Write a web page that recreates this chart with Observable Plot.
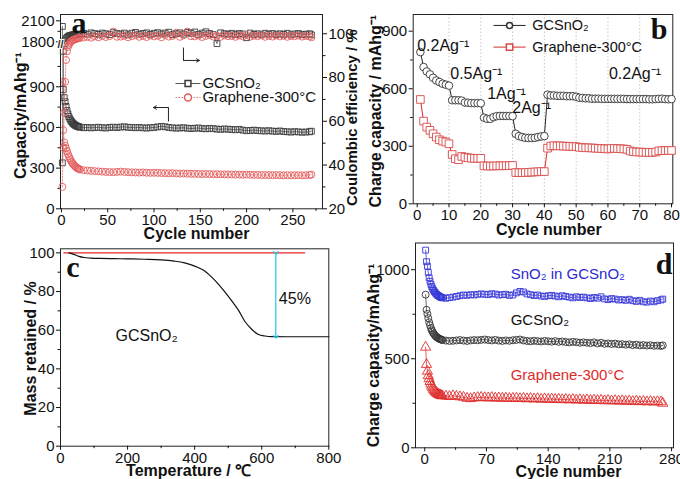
<!DOCTYPE html>
<html><head><meta charset="utf-8">
<script src="https://cdn.jsdelivr.net/npm/d3@7"></script>
<script src="https://cdn.jsdelivr.net/npm/@observablehq/plot@0.6"></script>
<style>
html,body{margin:0;padding:0;background:#fff;}
#fig{position:relative;width:680px;height:479px;overflow:hidden;background:#fff;}
</style></head><body><div id="fig"></div>
<script>
// ---------------- DATA ----------------
// Panel a: cycling (capacity, left axis; coulombic efficiency, right axis)
const cyclesA = [...d3.range(1, 21), ...d3.range(24, 269, 4), 270];
const gcCapA = [2020,880,820,790,755,725,700,680,665,652,642,634,627,621,616,612,609,606,604,602,
 598,600,597,599,601,598,596,600,602,599,
 603,605,601,600,598,600,597,596,598,600,
 604,608,605,600,597,595,596,598,594,592,
 594,596,592,590,593,591,588,586,589,587,
 585,583,586,580,576,578,580,577,575,574,
 576,573,571,574,570,568,566,569,567,565,
 566,568,572];
const grCapA = [935,580,490,465,445,425,405,388,372,358,346,336,327,319,312,306,301,297,293,290,
 285,282,280,278,276,274,272,271,270,272,
 274,272,270,269,268,267,268,266,265,266,
 265,264,263,262,263,261,260,260,259,258,
 258,257,256,257,256,255,255,254,254,253,
 253,252,252,251,252,251,250,250,249,249,
 249,248,249,248,247,248,247,248,248,247,
 248,249,252];
const gcCEA = [41,92,95.5,97,97.8,98.2,98.6,99,99,99.2,99.3,99.5,99.4,99.6,99.5,99.7,99.6,99.8,99.7,99.8,
 100.2,99.8,100.4,100.1,99.7,100.3,100.0,99.6,100.5,100.1,
 99.9,100.3,99.5,100.2,100.6,99.8,100.1,100.4,99.7,100.2,
 100.5,99.9,100.3,100.7,99.6,100.0,100.4,99.8,100.6,100.2,
 100.8,99.7,100.3,100.9,100.1,99.6,95.5,100.4,100.0,99.8,
 100.2,99.6,100.1,99.9,98.2,100.3,99.7,100.0,99.5,100.2,
 99.8,100.1,99.6,100.0,99.7,100.2,99.5,99.9,100.1,99.6,
 99.8,100.0,99.5];
const grCEA = [30,48,64,78,88,92,94,95,95.8,96.3,96.7,97,97.2,97.4,97.6,97.7,97.8,97.9,98,98.1,
 98.3,98.6,98.2,98.8,98.4,99.0,98.5,98.9,101.0,98.6,
 98.7,99.1,98.4,98.9,99.3,98.6,99.0,98.5,99.2,98.8,
 99.1,98.4,99.4,98.7,99.0,100.5,98.6,99.3,101.0,98.9,
 98.8,99.2,98.5,99.0,99.4,98.7,99.1,98.6,99.3,98.9,
 99.0,98.6,99.2,98.8,99.5,98.7,99.1,98.9,99.3,98.6,
 99.0,98.7,99.2,98.8,99.1,98.6,99.0,98.9,99.2,98.7,
 99.0,98.8,98.4];
const capTicksLowA = [0, 300, 600, 900];
const capTicksHighA = [1800, 2100];
const ceTicksA = [20, 40, 60, 80, 100];

// Panel b: rate capability
const cyclesB = d3.range(1, 81);
const gcRateB = [791,713,690,675,657,643,635,626,621,616,
 540,540,540,538,528,527,525,525,525,524,
 449,443,443,452,457,458,458,458,458,457,
 365,353,348,344,343,343,344,348,351,353,
 569,565,565,563,563,563,561,561,561,558,
 553,552,550,550,548,548,548,547,547,547,
 547,547,547,547,547,546,546,546,546,546,
 546,546,545,545,546,547,548,546,545,546];
const grRateB = [544,431,400,383,365,348,334,327,322,313,
 257,235,230,247,243,240,238,237,237,237,
 198,197,197,197,198,198,198,199,199,200,
 163,162,162,163,164,165,166,167,168,168,
 290,301,303,302,302,301,300,300,299,298,
 295,293,292,292,291,290,289,288,287,286,
 288,289,288,287,286,284,275,272,270,270,
 269,268,268,268,270,276,277,277,278,278];
const rateLabels = ["0.2Ag⁻¹", "0.5Ag⁻¹", "1Ag⁻¹", "2Ag⁻¹", "0.2Ag⁻¹"];
const rateLabelCycle = [0, 10.4, 22, 29.9, 60.3];
const rateLabelCap = [826, 679, 575, 502, 679];

// Panel c: TGA
const tempC = [25,40,55,70,90,120,160,200,250,300,340,370,390,410,430,450,470,490,510,530,550,570,590,610,630,700,800];
const massC = [100,99.2,98.2,97.6,97.3,97.1,97.0,96.9,96.7,96.4,95.7,94.8,93.8,92.4,90.6,87.6,84.0,79.8,75.3,70.5,64.5,60.5,57.8,57.0,56.7,56.6,56.6];
const refLineC = [{t: 10, m: 100}, {t: 728, m: 100}];
const lossC = [{t: 642, top: 100, bottom: 56.6}];

// Panel d: cycling of three materials
const cyclesD = [...d3.range(1, 21), ...d3.range(24, 269, 4), 270];
const sno2D = [1110,1045,1020,985,955,935,918,905,893,884,876,870,864,859,855,852,849,846,844,842,
 840,843,846,850,854,858,856,860,858,862,
 864,862,860,865,863,858,860,862,856,858,
 870,878,875,864,860,855,858,852,850,854,
 856,852,848,854,850,846,842,848,844,846,
 842,838,844,840,848,836,832,838,835,830,
 832,828,834,826,822,828,820,818,824,820,
 826,830,835];
const gcD = [860,775,752,728,705,688,672,660,650,642,635,629,624,620,617,614,611,609,607,605,
 602,600,601,603,605,602,600,603,605,604,
 606,608,605,603,606,602,600,603,601,604,
 606,608,603,600,598,601,599,597,600,598,
 596,599,595,597,594,592,595,593,590,592,
 590,588,592,586,590,584,586,583,585,581,
 582,579,581,577,579,575,577,574,576,573,
 574,572,575];
const grD = [565,468,430,405,388,372,358,346,336,328,321,315,310,306,302,299,297,295,293,292,
 290,288,292,289,286,284,278,276,280,282,
 283,281,280,282,279,280,278,279,277,278,
 279,276,278,275,277,274,276,273,275,272,
 274,271,273,270,272,269,271,268,270,267,
 269,266,268,265,267,264,266,263,265,262,
 264,261,263,260,262,259,261,258,260,257,
 259,258,250];

// ---------------- DRAWING ----------------
const FONT = "'Liberation Sans', Arial, sans-serif";
const SERIF = "'Liberation Serif', 'Times New Roman', serif";
const baseStyle = {background: "transparent", fontFamily: FONT, fontSize: "15px", color: "#111", overflow: "visible"};
const fig = document.getElementById("fig");
function put(svg, left, top) {
  svg.style.position = "absolute";
  svg.style.left = left + "px";
  svg.style.top = top + "px";
  svg.style.maxWidth = "none";
  fig.appendChild(svg);
}
const T = (t, o) => Plot.text([t], {text: d => d, fontFamily: FONT, fill: "#111", textAnchor: "middle", lineAnchor: "middle", ...o});
const title = (t, o) => T(t, {fontWeight: "bold", fontSize: 16, ...o});
const letter = (t, o) => Plot.text([t], {text: d => d, fontFamily: SERIF, fontWeight: "bold", fontSize: 30, fill: "#111", textAnchor: "middle", lineAnchor: "middle", ...o});
const ax = (f, o) => f({tickSize: 4, tickPadding: 2, label: null, tickFormat: "d", ...o});
const minor = (f, ticks, o) => f({ticks, tickSize: 2.5, tickFormat: () => "", label: null, ...o});

// ---- panel a : capacity, lower segment of the broken axis ----
const rowsA = cyclesA.map((c, i) => ({c, gcCap: gcCapA[i], grCap: grCapA[i], gcCE: gcCEA[i], grCE: grCEA[i]}));
const legendA = [
  {name: "GCSnO₂", y: 924, x1: 123.2, x2: 150.2, xm: 136.7, xt: 152.3},
  {name: "Graphene-300°C", y: 821, x1: 123.2, x2: 150.2, xm: 136.7, xt: 152.3}
];
const capArrowA = [{x: 115.6, y1: 644, y2: 747, xEnd: 99.4}];
const capMarks = [
  Plot.line(rowsA, {x: "c", y: "grCap", stroke: "#e87070", strokeWidth: 0.8, strokeDasharray: "1.5,1.5", clip: true}),
  Plot.dot(rowsA, {x: "c", y: "grCap", r: 3.5, stroke: "#e45c5c", fill: "none", strokeWidth: 0.9, clip: true}),
  Plot.line(rowsA, {x: "c", y: "gcCap", stroke: "#555", strokeWidth: 0.8, clip: true}),
  Plot.dot(rowsA, {x: "c", y: "gcCap", symbol: "square", r: 3.3, stroke: "#3a3a3a", fill: "none", strokeWidth: 0.9, clip: true})
];
const plotA = Plot.plot({
  width: 340, height: 240, marginLeft: 60, marginRight: 18, marginTop: 45.6, marginBottom: 31.7,
  style: baseStyle,
  x: {domain: [-1, 282]},
  y: {domain: [0, 1200]},
  marks: [
    ...capMarks,
    ax(Plot.axisX, {ticks: [0, 50, 100, 150, 200, 250]}),
    minor(Plot.axisX, [25, 75, 125, 175, 225, 275]),
    ax(Plot.axisY, {ticks: capTicksLowA}),
    minor(Plot.axisY, [150, 450, 750, 1050]),
    // legend
    Plot.link(legendA.slice(0, 1), {x1: "x1", x2: "x2", y1: "y", y2: "y", stroke: "#555", strokeWidth: 1}),
    Plot.link(legendA.slice(1), {x1: "x1", x2: "x2", y1: "y", y2: "y", stroke: "#e87070", strokeWidth: 1, strokeDasharray: "1.5,1.5"}),
    Plot.dot(legendA.slice(0, 1), {x: "xm", y: "y", symbol: "square", r: 3.3, stroke: "#3a3a3a", fill: "white"}),
    Plot.dot(legendA.slice(1), {x: "xm", y: "y", r: 3.5, stroke: "#e45c5c", fill: "white"}),
    Plot.text(legendA, {x: "xt", y: "y", text: "name", textAnchor: "start", fontFamily: FONT, fontSize: 15, fill: "#111"}),
    // arrow pointing to the capacity axis
    Plot.link(capArrowA, {x1: "x", x2: "x", y1: "y1", y2: "y2", stroke: "#222", strokeWidth: 1}),
    Plot.arrow(capArrowA, {x1: "x", y1: "y2", x2: "xEnd", y2: "y2", stroke: "#222", strokeWidth: 1, headLength: 5}),
    title("Cycle number", {frameAnchor: "bottom", dx: 5, dy: 25})
  ]
});
put(plotA, 0, 0);

// ---- panel a : capacity, upper segment of the broken axis ----
const plotAhi = Plot.plot({
  width: 340, height: 240, marginLeft: 60, marginRight: 18, marginTop: 14, marginBottom: 198,
  style: baseStyle,
  x: {domain: [-1, 282], axis: null},
  y: {domain: [1790, 2190]},
  marks: [
    ...capMarks,
    ax(Plot.axisY, {ticks: capTicksHighA}),
    minor(Plot.axisY, [1950])
  ]
});
put(plotAhi, 0, 0);

// ---- panel a : coulombic efficiency (right axis) + frame ----
const ceArrowA = [{x: 131.8, y1: 93.7, y2: 87.8, xEnd: 149.1}];
const plotA2 = Plot.plot({
  width: 370, height: 240, marginLeft: 60, marginRight: 48, marginTop: 14, marginBottom: 31.7,
  style: baseStyle,
  x: {domain: [-1, 282], axis: null},
  y: {domain: [20, 108.8]},
  marks: [
    Plot.frame({stroke: "#222"}),
    Plot.line(rowsA, {x: "c", y: "gcCE", stroke: "#555", strokeWidth: 0.8}),
    Plot.dot(rowsA, {x: "c", y: "gcCE", symbol: "square", r: 3.3, stroke: "#3a3a3a", fill: "none", strokeWidth: 0.9}),
    Plot.line(rowsA, {x: "c", y: "grCE", stroke: "#e87070", strokeWidth: 0.8, strokeDasharray: "1.5,1.5"}),
    Plot.dot(rowsA, {x: "c", y: "grCE", r: 3.5, stroke: "#e45c5c", fill: "none", strokeWidth: 0.9}),
    ax(Plot.axisY, {anchor: "right", ticks: ceTicksA}),
    minor(Plot.axisY, [30, 50, 70, 90], {anchor: "right"}),
    Plot.link(ceArrowA, {x1: "x", x2: "x", y1: "y1", y2: "y2", stroke: "#222", strokeWidth: 1}),
    Plot.arrow(ceArrowA, {x1: "x", y1: "y2", x2: "xEnd", y2: "y2", stroke: "#222", strokeWidth: 1, headLength: 5}),
    // axis-break mark on the left axis (between 1200 and 1790)
    Plot.text(["//"], {frameAnchor: "top-left", dy: 30, text: d => d, fontSize: 11, fontWeight: "bold", fill: "#222", stroke: "white", strokeWidth: 2, paintOrder: "stroke", textAnchor: "middle", lineAnchor: "middle"}),
    title("Capacity/mAhg⁻¹", {frameAnchor: "left", rotate: -90, dx: -40, dy: 4}),
    title("Coulombic efficiency / %", {frameAnchor: "right", rotate: -90, dx: 30, dy: 6, fontSize: 15}),
    letter("a", {frameAnchor: "top-left", dx: 18.5, dy: 9})
  ]
});
put(plotA2, 0, 0);

// ---- panel b ----
const rowsB = cyclesB.map((c, i) => ({c, gc: gcRateB[i], gr: grRateB[i]}));
const rateRowsB = rateLabels.map((t, i) => ({t, x: rateLabelCycle[i], y: rateLabelCap[i]}));
const legendB = [
  {name: "GCSnO₂", y: 930, x1: 24, x2: 34.1, xm: 29.05, xt: 36.2},
  {name: "Graphene-300°C", y: 817, x1: 24, x2: 34.1, xm: 29.05, xt: 36.2}
];
const plotB = Plot.plot({
  width: 340, height: 240, marginLeft: 72.7, marginRight: 7.7, marginTop: 14, marginBottom: 36.7,
  style: baseStyle,
  x: {domain: [-1.26, 80.4]},
  y: {domain: [0, 987]},
  marks: [
    Plot.ruleX([10, 20, 30, 40, 50, 60, 70], {stroke: "#bbb", strokeWidth: 0.8, strokeDasharray: "1.5,2"}),
    Plot.frame({stroke: "#222"}),
    Plot.line(rowsB, {x: "c", y: "gr", stroke: "#d42a2a", strokeWidth: 1}),
    Plot.dot(rowsB, {x: "c", y: "gr", symbol: "square", r: 4.3, stroke: "#d94a4a", fill: "white", strokeWidth: 0.9}),
    Plot.line(rowsB, {x: "c", y: "gc", stroke: "#222", strokeWidth: 1}),
    Plot.dot(rowsB, {x: "c", y: "gc", r: 3.8, stroke: "#333", fill: "white", strokeWidth: 0.9}),
    ax(Plot.axisX, {ticks: d3.range(0, 81, 10)}),
    minor(Plot.axisX, d3.range(5, 80, 10)),
    ax(Plot.axisY, {ticks: [0, 300, 600, 900]}),
    minor(Plot.axisY, [150, 450, 750]),
    Plot.text(rateRowsB, {x: "x", y: "y", text: "t", textAnchor: "start", fontFamily: FONT, fontSize: 16, fill: "#111"}),
    Plot.link(legendB.slice(0, 1), {x1: "x1", x2: "x2", y1: "y", y2: "y", stroke: "#222", strokeWidth: 1}),
    Plot.link(legendB.slice(1), {x1: "x1", x2: "x2", y1: "y", y2: "y", stroke: "#d42a2a", strokeWidth: 1}),
    Plot.dot(legendB.slice(0, 1), {x: "xm", y: "y", r: 3, stroke: "#333", fill: "white"}),
    Plot.dot(legendB.slice(1), {x: "xm", y: "y", symbol: "square", r: 3.6, stroke: "#d94a4a", fill: "white"}),
    Plot.text(legendB, {x: "xt", y: "y", text: "name", textAnchor: "start", fontFamily: FONT, fontSize: 14.5, fill: "#111"}),
    title("Cycle number", {frameAnchor: "bottom", dx: 5.8, dy: 25.7}),
    title("Charge capacity / mAhg⁻¹", {frameAnchor: "left", rotate: -90, dx: -37.7, dy: 2}),
    letter("b", {frameAnchor: "top-right", dx: -13.8, dy: 15})
  ]
});
put(plotB, 340, 0);

// ---- panel c ----
const rowsC = tempC.map((t, i) => ({t, m: massC[i]}));
const plotC = Plot.plot({
  width: 340, height: 239, marginLeft: 60, marginRight: 11.7, marginTop: 8.3, marginBottom: 33.3,
  style: baseStyle,
  x: {domain: [0, 800]},
  y: {domain: [0, 102.1]},
  marks: [
    Plot.frame({stroke: "#222"}),
    Plot.line(refLineC, {x: "t", y: "m", stroke: "#ec2424", strokeWidth: 1.4}),
    Plot.line(rowsC, {x: "t", y: "m", stroke: "#111", strokeWidth: 1.2, curve: "monotone-x"}),
    Plot.link(lossC, {x1: "t", x2: "t", y1: "top", y2: "bottom", stroke: "#1ec8e6", strokeWidth: 1.2, markerStart: "arrow", markerEnd: "arrow"}),
    ax(Plot.axisX, {ticks: [0, 200, 400, 600, 800]}),
    minor(Plot.axisX, [100, 300, 500, 700]),
    ax(Plot.axisY, {ticks: [0, 20, 40, 60, 80, 100]}),
    minor(Plot.axisY, [10, 30, 50, 70, 90]),
    Plot.text(["45%"], {x: 651, y: 76.2, text: d => d, textAnchor: "start", fontFamily: FONT, fontSize: 16, fill: "#111"}),
    Plot.text(["GCSnO₂"], {x: 164, y: 56.9, text: d => d, textAnchor: "start", fontFamily: FONT, fontSize: 16, fill: "#111"}),
    title("Temperature / ℃", {frameAnchor: "bottom", dx: -6, dy: 24.3}),
    title("Mass retained / %", {frameAnchor: "left", rotate: -90, dx: -30, dy: 1}),
    letter("c", {frameAnchor: "top-left", dx: 12.5, dy: 18.5})
  ]
});
put(plotC, 0, 240);

// ---- panel d ----
const rowsD = cyclesD.map((c, i) => ({c, s: sno2D[i], g: gcD[i], r: grD[i]}));
const labelsD = [
  {t: "SnO₂ in GCSnO₂", y: 977, color: "#2a2ad6"},
  {t: "GCSnO₂", y: 715, color: "#111"},
  {t: "Graphene-300°C", y: 406, color: "#e02a2a"}
];
const plotD = Plot.plot({
  width: 340, height: 239, marginLeft: 75, marginRight: 7, marginTop: 2.5, marginBottom: 31.7,
  style: baseStyle,
  x: {domain: [-10.5, 282.2]},
  y: {domain: [0, 1150]},
  marks: [
    Plot.frame({stroke: "#222"}),
    Plot.line(rowsD, {x: "c", y: "s", stroke: "#3b3bdc", strokeWidth: 0.8}),
    Plot.dot(rowsD, {x: "c", y: "s", symbol: "square", r: 3.3, stroke: "#3434d8", fill: "none", strokeWidth: 0.9}),
    Plot.line(rowsD, {x: "c", y: "g", stroke: "#444", strokeWidth: 0.8}),
    Plot.dot(rowsD, {x: "c", y: "g", r: 3.5, stroke: "#333", fill: "none", strokeWidth: 0.9}),
    Plot.line(rowsD, {x: "c", y: "r", stroke: "#e03a3a", strokeWidth: 0.8}),
    Plot.dot(rowsD, {x: "c", y: "r", symbol: "triangle", r: 3.8, stroke: "#e03030", fill: "none", strokeWidth: 0.9}),
    ax(Plot.axisX, {ticks: [0, 70, 140, 210, 280]}),
    minor(Plot.axisX, [35, 105, 175, 245]),
    ax(Plot.axisY, {ticks: [0, 500, 1000]}),
    minor(Plot.axisY, [250, 750]),
    Plot.text(labelsD, {x: 97.5, y: "y", text: "t", fill: "color", textAnchor: "start", fontFamily: FONT, fontSize: 15}),
    title("Cycle number", {frameAnchor: "bottom", dx: 24, dy: 24}),
    title("Charge capacity/mAhg⁻¹", {frameAnchor: "left", rotate: -90, dx: -42, dy: 10}),
    letter("d", {frameAnchor: "top-right", dx: -9.5, dy: 21})
  ]
});
put(plotD, 340, 240);
</script></body></html>
